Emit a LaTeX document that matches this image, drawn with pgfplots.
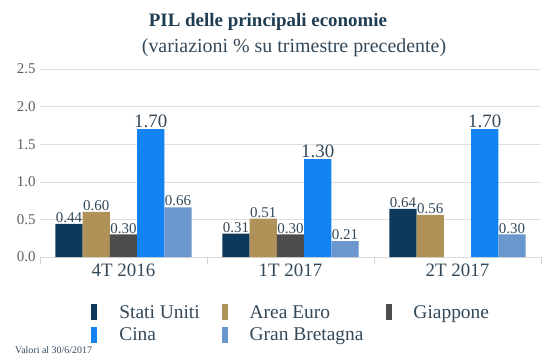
\documentclass[border=0pt]{standalone}
\usepackage{pgfplots}
\pgfplotsset{compat=1.18}
\usepackage{fontspec}
\setmainfont{Liberation Serif}
\definecolor{cUS}{HTML}{0D3A5C}
\definecolor{cEU}{HTML}{B09157}
\definecolor{cJP}{HTML}{4D4D4D}
\definecolor{cCN}{HTML}{1283F0}
\definecolor{cGB}{HTML}{6A97CE}
\definecolor{txt}{HTML}{33495A}
\definecolor{ttl}{HTML}{1F3D52}
\pgfplotsset{/pgf/number format/assume math mode=true}
\begin{document}
\begin{tikzpicture}[x=1bp,y=1bp]
\useasboundingbox (0,0) rectangle (550,363);
\begin{axis}[
  at={(40bp,106bp)}, anchor=south west,
  scale only axis, width=501bp, height=188bp,
  ybar=0pt, bar width=0.163,
  xmin=-0.5, xmax=2.5, ymin=0, ymax=2.5,
  xtick={0,1,2}, xticklabels={4T 2016,1T 2017,2T 2017},
  minor xtick={-0.5,0.5,1.5,2.5},
  ytick={0,0.5,1,1.5,2,2.5},
  yticklabel={\pgfmathprintnumber[fixed,fixed zerofill,precision=1]{\tick}},
  axis x line=bottom, axis y line=left,
  x axis line style={draw=gray!30,-},
  y axis line style={draw=none},
  ymajorgrids, grid style={draw=gray!25, line width=0.6bp},
  major tick length=0pt,
  minor tick length=7bp,
  tick align=outside,
  minor tick style={draw=gray!35},
  xticklabel style={font=\fontsize{19}{19}\selectfont, text=txt, yshift=-3bp},
  yticklabel style={font=\fontsize{15}{15}\selectfont, text=gray!75!black, xshift=-1bp},
  nodes near coords={\pgfmathprintnumber[fixed,fixed zerofill,precision=2]{\pgfplotspointmeta}},
  every node near coord/.append style={font=\fontsize{15}{15}\selectfont, text=txt, inner sep=1bp},
  legend columns=3,
  legend style={draw=none, fill=none, at={(0.102,-0.245)}, anchor=north west,
    font=\fontsize{19.5}{19.5}\selectfont, text=txt, inner sep=0pt,
    row sep=4bp,
    /tikz/every odd column/.append style={column sep=20bp},
    /tikz/every even column/.append style={column sep=20bp}},
  legend cell align=left,
  legend image code/.code={\fill[#1] (0bp,-8bp) rectangle (6bp,8bp);},
]
\addplot[fill=cUS, draw=none] coordinates {(0,0.44) (1,0.31) (2,0.64)};
\addplot[fill=cEU, draw=none] coordinates {(0,0.60) (1,0.51) (2,0.56)};
\addplot[fill=cJP, draw=none] coordinates {(0,0.30) (1,0.30)};
\addplot[fill=cCN, draw=none, every node near coord/.append style={font=\fontsize{19}{19}\selectfont}] coordinates {(0,1.70) (1,1.30) (2,1.70)};
\addplot[fill=cGB, draw=none] coordinates {(0,0.66) (1,0.21) (2,0.30)};
\legend{Stati Uniti,Area Euro,Giappone,Cina,Gran Bretagna}
\end{axis}
\node[anchor=base, font=\bfseries\fontsize{19}{19}\selectfont, text=ttl] at (268,337) {PIL delle principali economie};
\node[anchor=base, font=\fontsize{20}{20}\selectfont, text=txt] at (294,311) {(variazioni \% su trimestre precedente)};
\node[anchor=base west, font=\fontsize{10}{10}\selectfont, text=txt, inner sep=0pt] at (15,10) {Valori al 30/6/2017};
\end{tikzpicture}
\end{document}
